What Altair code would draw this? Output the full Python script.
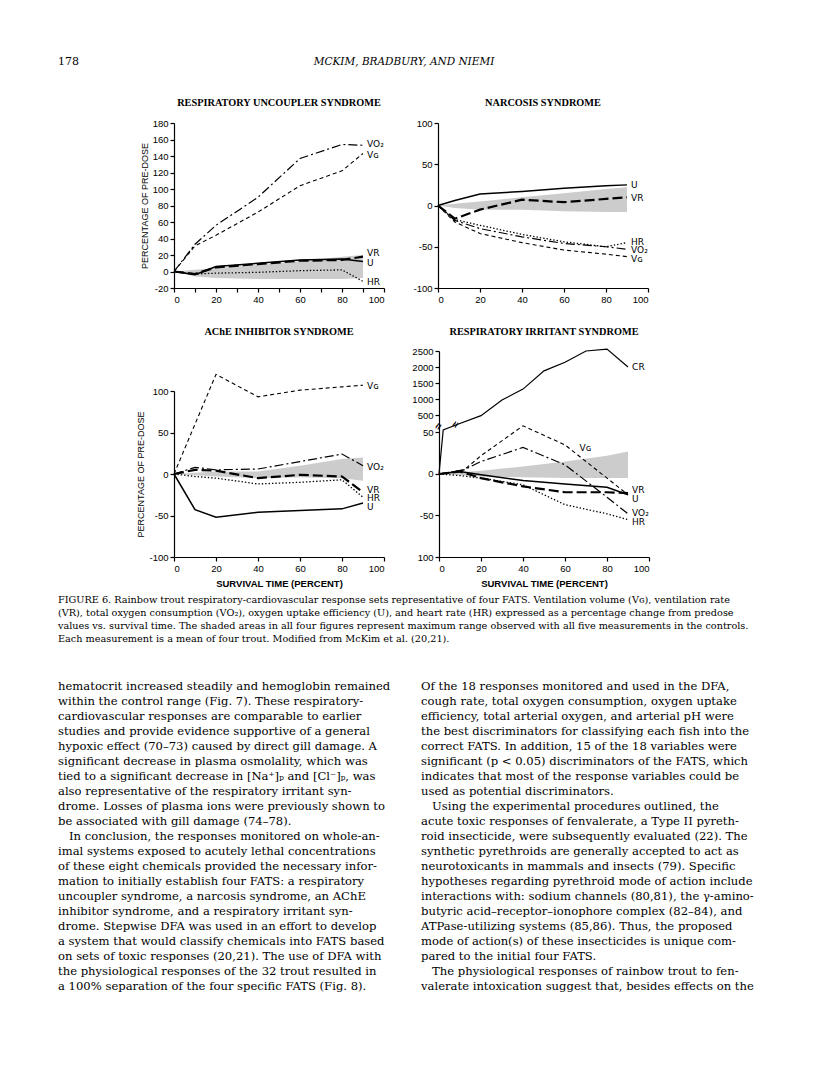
import altair as alt
import pandas as pd

W, H = 800, 1057

# ---------------- Respiratory uncoupler syndrome ----------------
unc_x = [0, 10, 20, 40, 60, 80, 90]
unc_vo2 = [0, 33, 56, 90, 137, 154, 153]
unc_vg = [0, 31, 44, 72, 104, 122, 143]
unc_vr = [0, -3, 5, 9, 13, 14, 18]
unc_u = [0, -4, 6, 10, 14, 15, 12]
unc_hr = [0, -3, -2, -1, 1, 2, -12]
unc_band_lo = [0, -6, -8, -9, -9, -9, -8]
unc_band_hi = [0, 2, 4, 8, 12, 18, 20]
unc_labels = ["VO₂", "Vɢ", "VR", "U", "HR"]
unc_label_x = [91, 91, 91, 91, 91]
unc_label_y = [155, 141, 22, 10, -13]
unc_yticks = [-20, 0, 20, 40, 60, 80, 100, 120, 140, 160, 180]
unc_xticks = [0, 10, 20, 30, 40, 50, 60, 70, 80, 90, 100]

# ---------------- Narcosis syndrome ----------------
nar_x = [0, 8, 20, 40, 60, 80, 90]
nar_u = [0, 6, 14, 17, 21, 24, 25]
nar_vr = [0, -16, -5, 7, 4, 8, 10]
nar_hr = [0, -17, -24, -35, -44, -50, -45]
nar_vo2 = [0, -18, -28, -38, -46, -50, -53]
nar_vg = [0, -20, -34, -45, -54, -59, -62]
nar_band_lo = [0, -3, -5, -5, -7, -8, -8]
nar_band_hi = [0, 2, 5, 10, 15, 20, 22]
nar_labels = ["U", "VR", "HR", "VO₂", "Vɢ"]
nar_label_x = [91, 91, 91, 91, 91]
nar_label_y = [25, 9, -44, -54, -65]

# ---------------- AChE inhibitor syndrome ----------------
ache_x = [0, 10, 20, 40, 60, 80, 90]
ache_vg_x = [0, 20, 40, 60, 80, 90]
ache_vg = [0, 120, 93, 101, 105, 107]
ache_vo2 = [0, 8, 5, 6, 15, 24, 10]
ache_vr = [0, 5, 4, -5, -1, -3, -22]
ache_hr = [0, -3, -5, -12, -10, -7, -28]
ache_u = [0, -43, -52, -46, -44, -42, -35]
ache_band_x = [0, 20, 40, 60, 80, 90]
ache_band_lo = [0, -3, -5, -4, -5, -8]
ache_band_hi = [0, 3, 3, 10, 18, 20]
ache_labels = ["Vɢ", "VO₂", "VR", "HR", "U"]
ache_label_x = [91, 91, 91, 91, 91]
ache_label_y = [106, 8, -19, -29, -40]

# ---------------- Respiratory irritant syndrome ----------------
irr_cr_x = [0, 2, 8, 20, 30, 40, 50, 60, 70, 80, 90]
irr_cr = [0, 53, 59, 470, 970, 1310, 1880, 2150, 2500, 2560, 2000]
irr_x = [0, 10, 20, 40, 60, 80, 90]
irr_vg_x = [0, 12, 20, 40, 60, 70, 90]
irr_vg = [0, 5, 22, 58, 35, 15, -25]
irr_vo2_x = [0, 12, 20, 40, 60, 80, 90]
irr_vo2 = [0, 5, 15, 32, 11, -28, -48]
irr_vr = [0, 3, -5, -15, -22, -22, -23]
irr_u = [0, 3, -1, -8, -12, -16, -25]
irr_hr = [0, -2, -5, -13, -37, -48, -55]
irr_band_x = [0, 20, 40, 60, 80, 90]
irr_band_lo = [0, -3, -4, -5, -5, -5]
irr_band_hi = [0, 4, 9, 15, 22, 27]
irr_labels = ["CR", "Vɢ", "VR", "U", "VO₂", "HR"]
irr_label_x = [91, 66, 91, 91, 91, 91]
irr_label_y = [2000, 31, -19, -30, -47, -58]
irr_tick_values = [-100, -50, 0, 50, 500, 1000, 1500, 2000, 2500]
irr_tick_text = ["100", "-50", "0", "50", "500", "1000", "1500", "2000", "2500"]
irr_break_x = [0, 8]
irr_break_y = [57, 59]

xticks20 = [0, 20, 40, 60, 80, 100]
yticks100 = [-100, -50, 0, 50, 100]

panel_titles = ["RESPIRATORY UNCOUPLER SYNDROME", "NARCOSIS SYNDROME",
                "AChE INHIBITOR SYNDROME", "RESPIRATORY IRRITANT SYNDROME"]
y_title = "PERCENTAGE OF PRE-DOSE"
x_title = "SURVIVAL TIME (PERCENT)"

header_texts = ["178", "MCKIM, BRADBURY, AND NIEMI"]

caption_lines = [
    "FIGURE 6.  Rainbow trout respiratory-cardiovascular response sets representative of four FATS. Ventilation volume (Vɢ), ventilation rate",
    "(VR), total oxygen consumption (VO₂), oxygen uptake efficiency (U), and heart rate (HR) expressed as a percentage change from predose",
    "values vs. survival time. The shaded areas in all four figures represent maximum range observed with all five measurements in the controls.",
    "Each measurement is a mean of four trout. Modified from McKim et al. (20,21).",
]

left_column = [
    "hematocrit increased steadily and hemoglobin remained",
    "within the control range (Fig. 7). These respiratory-",
    "cardiovascular responses are comparable to earlier",
    "studies and provide evidence supportive of a general",
    "hypoxic effect (70–73) caused by direct gill damage. A",
    "significant decrease in plasma osmolality, which was",
    "tied to a significant decrease in [Na⁺]ₚ and [Cl⁻]ₚ, was",
    "also representative of the respiratory irritant syn-",
    "drome. Losses of plasma ions were previously shown to",
    "be associated with gill damage (74–78).",
    "In conclusion, the responses monitored on whole-an-",
    "imal systems exposed to acutely lethal concentrations",
    "of these eight chemicals provided the necessary infor-",
    "mation to initially establish four FATS: a respiratory",
    "uncoupler syndrome, a narcosis syndrome, an AChE",
    "inhibitor syndrome, and a respiratory irritant syn-",
    "drome. Stepwise DFA was used in an effort to develop",
    "a system that would classify chemicals into FATS based",
    "on sets of toxic responses (20,21). The use of DFA with",
    "the physiological responses of the 32 trout resulted in",
    "a 100% separation of the four specific FATS (Fig. 8).",
]
left_paragraph_starts = [10]

right_column = [
    "Of the 18 responses monitored and used in the DFA,",
    "cough rate, total oxygen consumption, oxygen uptake",
    "efficiency, total arterial oxygen, and arterial pH were",
    "the best discriminators for classifying each fish into the",
    "correct FATS. In addition, 15 of the 18 variables were",
    "significant (p < 0.05) discriminators of the FATS, which",
    "indicates that most of the response variables could be",
    "used as potential discriminators.",
    "Using the experimental procedures outlined, the",
    "acute toxic responses of fenvalerate, a Type II pyreth-",
    "roid insecticide, were subsequently evaluated (22). The",
    "synthetic pyrethroids are generally accepted to act as",
    "neurotoxicants in mammals and insects (79). Specific",
    "hypotheses regarding pyrethroid mode of action include",
    "interactions with: sodium channels (80,81), the γ-amino-",
    "butyric acid–receptor–ionophore complex (82–84), and",
    "ATPase-utilizing systems (85,86). Thus, the proposed",
    "mode of action(s) of these insecticides is unique com-",
    "pared to the initial four FATS.",
    "The physiological responses of rainbow trout to fen-",
    "valerate intoxication suggest that, besides effects on the",
]
right_paragraph_starts = [8, 19]

# ---------------- styles ----------------
STYLE = {
    "VG": dict(strokeDash=[4, 3], strokeWidth=1.1),
    "VO2": dict(strokeDash=[9, 3, 2, 3], strokeWidth=1.2),
    "VR": dict(strokeDash=[10, 4], strokeWidth=2.2),
    "U": dict(strokeWidth=1.5),
    "HR": dict(strokeDash=[1.4, 2], strokeWidth=1.3),
    "CR": dict(strokeWidth=1.2),
}
SANS = "Liberation Sans"
SERIF = "DejaVu Serif"
NEG_EXPR = "datum.value < 0 ? '-' + (-datum.value) : '' + datum.value"


def irr_disp(v):
    """Broken axis of the irritant panel: lower part linear, upper part compressed."""
    if v <= 60:
        return v
    if v < 500:
        return 60 + (v - 60) * 11 / 440
    return 71 + (v - 500) * 0.03855


def panel(title, series, band, labels, xr, yr, ydom, yticks, ylabel_expr,
          xticks, ytitle, xtitle, title_dy, extra_layers=None):
    xs = alt.Scale(domain=[0, 100], range=xr, nice=False, zero=False)
    ys = alt.Scale(domain=ydom, range=yr, nice=False, zero=False)
    xa = alt.Axis(orient="bottom", offset=yr[0] - H, values=xticks, format="d",
                  title=xtitle, titleFont=SANS, titleFontWeight="bold",
                  titleFontSize=9.5, titlePadding=6)
    ya = alt.Axis(orient="left", offset=-xr[0], values=yticks, labelExpr=ylabel_expr,
                  title=ytitle, titleFont=SANS, titleFontWeight="normal",
                  titleFontSize=9, titlePadding=3)
    X = lambda f: alt.X(f, type="quantitative", scale=xs, axis=xa)
    Y = lambda f: alt.Y(f, type="quantitative", scale=ys, axis=ya)

    layers = []
    bdf = pd.DataFrame({"x": band[0], "lo": band[1], "hi": band[2]})
    layers.append(alt.Chart(bdf).mark_area(color="#c9c9c9", opacity=0.95).encode(
        x=X("x"), y=Y("lo"), y2=alt.Y2("hi")))
    for name, xv, yv in series:
        df = pd.DataFrame({"x": xv, "y": yv})
        layers.append(alt.Chart(df).mark_line(color="black", clip=False, strokeCap="butt",
                                              **STYLE[name]).encode(x=X("x"), y=Y("y")))
    ldf = pd.DataFrame({"x": labels[1], "y": labels[2], "t": labels[0]})
    layers.append(alt.Chart(ldf).mark_text(align="left", baseline="middle", dx=2,
                                           font="DejaVu Sans", fontSize=9,
                                           color="black").encode(
        x=X("x"), y=Y("y"), text="t:N"))
    tdf = pd.DataFrame({"x": [50], "y": [ydom[1]], "t": [title]})
    layers.append(alt.Chart(tdf).mark_text(align="center", baseline="middle", dy=title_dy,
                                           font="Liberation Serif", fontWeight="bold",
                                           fontSize=10.3, color="black").encode(
        x=X("x"), y=Y("y"), text="t:N"))
    if extra_layers:
        for d, kw in extra_layers:
            layers.append(alt.Chart(d).mark_text(**kw).encode(x=X("x"), y=Y("y"), text="t:N"))
    return alt.layer(*layers)


# Panel 1
p1 = panel(panel_titles[0],
           [("VG", unc_x, unc_vg), ("VO2", unc_x, unc_vo2), ("VR", unc_x, unc_vr),
            ("U", unc_x, unc_u), ("HR", unc_x, unc_hr)],
           (unc_x, unc_band_lo, unc_band_hi),
           (unc_labels, unc_label_x, unc_label_y),
           [166, 376], [280, 115], [-20, 180], unc_yticks, NEG_EXPR,
           unc_xticks, y_title, None, -20)

# Panel 2
p2 = panel(panel_titles[1],
           [("U", nar_x, nar_u), ("VR", nar_x, nar_vr), ("HR", nar_x, nar_hr),
            ("VO2", nar_x, nar_vo2), ("VG", nar_x, nar_vg)],
           (nar_x, nar_band_lo, nar_band_hi),
           (nar_labels, nar_label_x, nar_label_y),
           [430, 640], [280, 115], [-100, 100], yticks100, NEG_EXPR,
           xticks20, None, None, -20)

# Panel 3
p3 = panel(panel_titles[2],
           [("VG", ache_vg_x, ache_vg), ("VO2", ache_x, ache_vo2), ("VR", ache_x, ache_vr),
            ("HR", ache_x, ache_hr), ("U", ache_x, ache_u)],
           (ache_band_x, ache_band_lo, ache_band_hi),
           (ache_labels, ache_label_x, ache_label_y),
           [166, 376], [549, 383], [-100, 100], yticks100, NEG_EXPR,
           xticks20, y_title, x_title, -59)

# Panel 4 (broken y axis)
irr_disp_ticks = [irr_disp(v) for v in irr_tick_values]
irr_expr = " : ".join(
    f"abs(datum.value - {d:.4f}) < 0.01 ? '{t}'" for d, t in zip(irr_disp_ticks, irr_tick_text)
) + " : ''"
irr_lab_y = [irr_disp(v) if t == "CR" else v for t, v in zip(irr_labels, irr_label_y)]
break_df = pd.DataFrame({"x": irr_break_x, "y": irr_break_y, "t": ["≈", "≈"]})
p4 = panel(panel_titles[3],
           [("CR", irr_cr_x, [irr_disp(v) for v in irr_cr]), ("VG", irr_vg_x, irr_vg),
            ("VO2", irr_vo2_x, irr_vo2), ("VR", irr_x, irr_vr), ("U", irr_x, irr_u),
            ("HR", irr_x, irr_hr)],
           (irr_band_x, irr_band_lo, irr_band_hi),
           (irr_labels, irr_label_x, irr_lab_y),
           [431, 641], [549, 343], [-100, irr_disp(2500)], irr_disp_ticks, irr_expr,
           xticks20, None, x_title, -19,
           extra_layers=[(break_df, dict(align="center", baseline="middle", fontSize=11,
                                         fontWeight="bold", color="black", angle=300))])

# ---------------- page text ----------------
hdf_left = pd.DataFrame({"slot": [0], "row": [0], "t": [header_texts[0]]})
hdf_mid = pd.DataFrame({"slot": [1], "row": [0], "t": [header_texts[1]]})
hx = alt.Scale(domain=[0, 1], range=[50, 396])
hy = alt.Scale(domain=[0, 1], range=[54, 74])
header = alt.layer(
    alt.Chart(hdf_left).mark_text(align="left", baseline="middle", font=SERIF,
                                  fontSize=11, color="black").encode(
        x=alt.X("slot:Q", scale=hx, axis=None), y=alt.Y("row:Q", scale=hy, axis=None), text="t:N"),
    alt.Chart(hdf_mid).mark_text(align="center", baseline="middle", font=SERIF,
                                 fontStyle="italic", fontSize=10.5, color="black").encode(
        x=alt.X("slot:Q", scale=hx, axis=None), y=alt.Y("row:Q", scale=hy, axis=None), text="t:N"),
)

cdf = pd.DataFrame({"col": [0] * len(caption_lines), "line": list(range(len(caption_lines))),
                    "t": caption_lines})
caption = alt.Chart(cdf).mark_text(align="left", baseline="middle", font=SERIF,
                                   fontSize=9.7, color="black").encode(
    x=alt.X("col:Q", scale=alt.Scale(domain=[0, 1], range=[50, 743]), axis=None),
    y=alt.Y("line:Q", scale=alt.Scale(domain=[0, 3], range=[592, 631]), axis=None),
    text="t:N")

bdf_rows = pd.DataFrame({
    "col": [0] * len(left_column) + [1] * len(right_column),
    "line": list(range(len(left_column))) + list(range(len(right_column))),
    "t": left_column + right_column,
    "indent": [i in left_paragraph_starts for i in range(len(left_column))]
              + [i in right_paragraph_starts for i in range(len(right_column))],
})
body_x = alt.X("col:Q", scale=alt.Scale(domain=[0, 1], range=[50, 413]), axis=None)
body_y = alt.Y("line:Q", scale=alt.Scale(domain=[0, 20], range=[679, 979]), axis=None)
body_plain = alt.Chart(bdf_rows[~bdf_rows["indent"]]).mark_text(
    align="left", baseline="middle", font=SERIF, fontSize=11.6, color="black").encode(
    x=body_x, y=body_y, text="t:N")
body_indented = alt.Chart(bdf_rows[bdf_rows["indent"]]).mark_text(
    align="left", baseline="middle", font=SERIF, fontSize=11.6, color="black", dx=11).encode(
    x=body_x, y=body_y, text="t:N")
body = alt.layer(body_plain, body_indented)

chart = alt.layer(header, caption, body, p1, p2, p3, p4).resolve_scale(
    x="independent", y="independent"
).properties(
    width=W, height=H, padding=0, autosize=alt.AutoSizeParams(type="none"),
    background="white",
).configure_view(stroke=None).configure_axis(
    grid=False, domainColor="black", domainWidth=1.2, tickColor="black", tickWidth=1.2,
    tickSize=4, labelFont=SANS, labelFontSize=9.5, labelColor="black", labelPadding=2,
    titleColor="black",
)

chart.save("out.html", embed_options={"renderer": "svg", "actions": False})
